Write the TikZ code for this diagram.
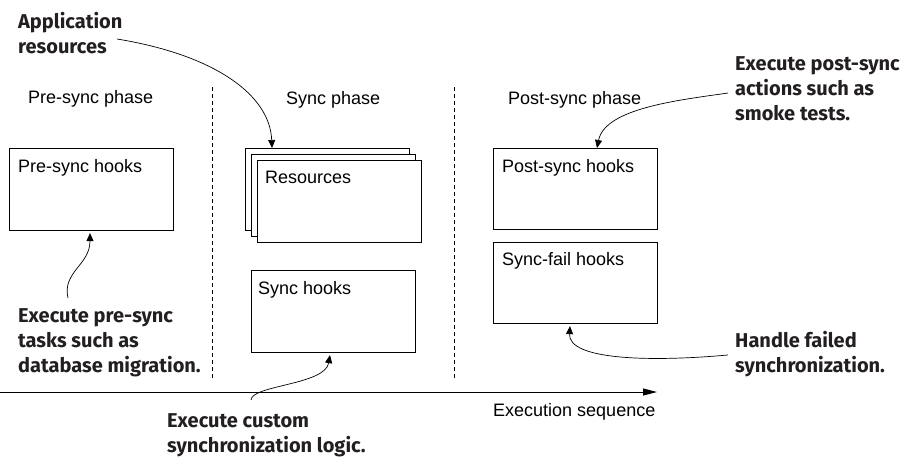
\documentclass[tikz,border=0pt]{standalone}
\usepackage{fontspec}
\setmainfont{Liberation Sans}
\newfontfamily\annfont{Fira Sans}
\usetikzlibrary{arrows.meta,calc}
\definecolor{anntext}{HTML}{231F20}
\begin{document}
\begin{tikzpicture}[x=1pt,y=-1pt,
  box/.style={draw, line width=1.1pt, fill=white, minimum width=164pt, minimum height=82pt, anchor=north west, inner sep=0pt},
  lbl/.style={font=\fontsize{18}{21}\selectfont, inner sep=0pt, anchor=base west},
  ann/.style={font=\annfont\bfseries\fontsize{20}{25}\selectfont, text=anntext, inner sep=0pt, anchor=base west},
  conn/.style={line width=0.7pt, -{Triangle[length=8pt,width=7pt]}},
  divider/.style={line width=0.9pt, dash pattern=on 4pt off 3pt},
  axis/.style={line width=1pt, -{Triangle[length=14pt,width=7pt]}}]
\useasboundingbox (0,0) rectangle (900,458);

% phase dividers
\coordinate (d1t) at (212,87);
\coordinate (d1b) at (212,378);
\coordinate (d2t) at (454,87);
\coordinate (d2b) at (454,378);
\draw[divider] (d1t) -- (d1b);
\draw[divider] (d2t) -- (d2b);

% phase labels
\node[lbl] (ph1) at (28,103) {Pre-sync phase};
\node[lbl] (ph2) at (286,104) {Sync phase};
\node[lbl] (ph3) at (508,104) {Post-sync phase};

% boxes
\node[box, minimum height=82pt] (pre) at (9,148) {};
\node[lbl] (pret) at ($(pre.north west)+(9,24)$) {Pre-sync hooks};

\node[box] (resA) at (245,148) {};
\node[box] (resB) at (251,154) {};
\node[box] (resC) at (257,160) {};
\node[lbl] (rest) at ($(resC.north west)+(8,23)$) {Resources};

\node[box] (sync) at (251,270) {};
\node[lbl] (synct) at ($(sync.north west)+(7,24)$) {Sync hooks};

\node[box, minimum height=81pt] (post) at (493,148) {};
\node[lbl] (postt) at ($(post.north west)+(9,24)$) {Post-sync hooks};

\node[box, minimum height=81pt] (fail) at (493,242) {};
\node[lbl] (failt) at ($(fail.north west)+(9,23)$) {Sync-fail hooks};

% axis
\coordinate (axS) at (0,392);
\coordinate (axE) at (657,392);
\draw[axis] (axS) -- (axE);
\node[lbl] (axl) at (493,416) {Execution sequence};

% annotations
\node[ann] (appres) at (18,28) {\begin{tabular}[t]{@{}l@{}}Application\\resources\end{tabular}};
\node[ann] (postann) at (735,70) {\begin{tabular}[t]{@{}l@{}}Execute post-sync\\actions such as\\smoke tests.\end{tabular}};
\node[ann] (preann) at (18,322) {\begin{tabular}[t]{@{}l@{}}Execute pre-sync\\tasks such as\\database migration.\end{tabular}};
\node[ann] (syncann) at (167,427) {\begin{tabular}[t]{@{}l@{}}Execute custom\\synchronization logic.\end{tabular}};
\node[ann] (failann) at (735,347) {\begin{tabular}[t]{@{}l@{}}Handle failed\\synchronization.\end{tabular}};

% connectors
\coordinate (c1s) at (117,39);
\coordinate (c1e) at ($(resA.north west)+(27,0)$);
\draw[conn] (c1s) .. controls (215,55) and (270,95) .. (c1e);

\coordinate (c2s) at (728,93);
\coordinate (c2e) at ($(post.north west)+(104,0)$);
\draw[conn] (c2s) .. controls (680,100) and (605,108) .. (c2e);

\coordinate (c3s) at (68,298);
\coordinate (c3e) at ($(pre.south west)+(81,2)$);
\draw[conn] (c3s) .. controls (62,272) and (90,265) .. (c3e);

\coordinate (c4s) at (251,400);
\coordinate (c4e) at ($(sync.south west)+(79,2)$);
\draw[conn] (c4s) .. controls (252,385) and (325,385) .. (c4e);

\coordinate (c5s) at (728,355);
\coordinate (c5e) at ($(fail.south west)+(77,2)$);
\draw[conn] (c5s) .. controls (650,362) and (568,360) .. (c5e);
\end{tikzpicture}
\end{document}
